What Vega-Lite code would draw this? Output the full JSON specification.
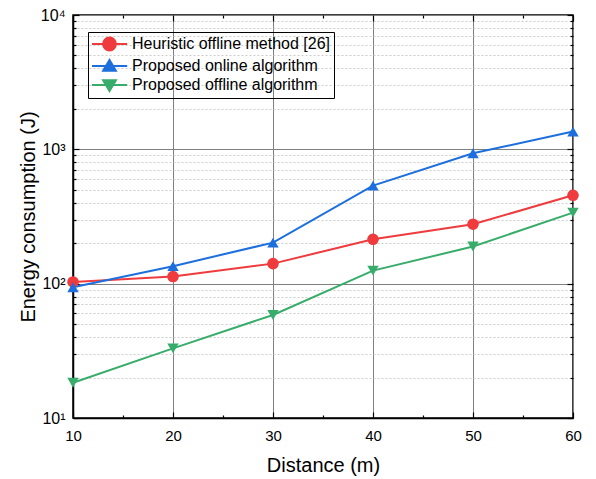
{
  "$schema": "https://vega.github.io/schema/vega-lite/v6.json",
  "width": 500,
  "height": 403,
  "autosize": {"type": "none"},
  "padding": {"left": 73, "top": 15, "right": 23, "bottom": 61},
  "background": "white",
  "config": {
    "font": "Liberation Sans",
    "view": {"stroke": "black", "strokeWidth": 1.5},
    "axis": {"domainColor": "black", "domainWidth": 1.5, "tickColor": "black", "tickWidth": 1.2, "labelColor": "black", "titleColor": "black", "labelFont": "Liberation Sans", "titleFont": "Liberation Sans", "titleFontWeight": "normal", "labelFlush": false}
  },
  "data": {"values": [
    {"d": 10, "e": 103, "s": "Heuristic offline method [26]"},
    {"d": 20, "e": 113, "s": "Heuristic offline method [26]"},
    {"d": 30, "e": 141, "s": "Heuristic offline method [26]"},
    {"d": 40, "e": 214, "s": "Heuristic offline method [26]"},
    {"d": 50, "e": 277, "s": "Heuristic offline method [26]"},
    {"d": 60, "e": 455, "s": "Heuristic offline method [26]"},
    {"d": 10, "e": 94, "s": "Proposed online algorithm"},
    {"d": 20, "e": 135, "s": "Proposed online algorithm"},
    {"d": 30, "e": 202, "s": "Proposed online algorithm"},
    {"d": 40, "e": 537, "s": "Proposed online algorithm"},
    {"d": 50, "e": 935, "s": "Proposed online algorithm"},
    {"d": 60, "e": 1356, "s": "Proposed online algorithm"},
    {"d": 10, "e": 18.3, "s": "Proposed offline algorithm"},
    {"d": 20, "e": 33, "s": "Proposed offline algorithm"},
    {"d": 30, "e": 58.5, "s": "Proposed offline algorithm"},
    {"d": 40, "e": 125, "s": "Proposed offline algorithm"},
    {"d": 50, "e": 189, "s": "Proposed offline algorithm"},
    {"d": 60, "e": 338, "s": "Proposed offline algorithm"}
  ]},
  "resolve": {"scale": {"x": "shared", "y": "shared"}, "axis": {"x": "independent", "y": "independent"}},
  "layer": [
    {
      "mark": {"type": "line", "strokeWidth": 2},
      "encoding": {
        "x": {"field": "d", "type": "quantitative", "scale": {"domain": [10, 60], "nice": false, "zero": false},
          "axis": {"title": "Distance (m)", "titleFontSize": 20, "titlePadding": 12, "labelFontSize": 15, "format": "d",
            "values": [10, 15, 20, 25, 30, 35, 40, 45, 50, 55, 60],
            "labelExpr": "datum.value % 10 == 0 ? datum.label : ''",
            "tickSize": {"condition": {"test": "datum.value % 10 == 0", "value": -6}, "value": -3},
            "labelPadding": 16,
            "grid": true, "gridColor": "#808080", "gridWidth": 1,
            "gridOpacity": {"condition": {"test": "datum.value % 10 == 0", "value": 1}, "value": 0}}},
        "y": {"field": "e", "type": "quantitative", "scale": {"type": "log", "domain": [10, 10000], "nice": false},
          "axis": {"title": "Energy consumption (J)", "titleFontSize": 20, "titlePadding": 2, "labelFontSize": 16,
            "values": [10, 20, 30, 40, 50, 60, 70, 80, 90, 100, 200, 300, 400, 500, 600, 700, 800, 900, 1000, 2000, 3000, 4000, 5000, 6000, 7000, 8000, 9000, 10000],
            "labelExpr": "datum.value == 10 ? '10¹' : datum.value == 100 ? '10²' : datum.value == 1000 ? '10³' : datum.value == 10000 ? '10⁴' : ''",
            "tickSize": {"condition": {"test": "indexof([10,100,1000,10000], datum.value) >= 0", "value": -6}, "value": -3},
            "labelPadding": 14,
            "grid": true,
            "gridColor": {"condition": {"test": "indexof([10,100,1000,10000], datum.value) >= 0", "value": "#808080"}, "value": "#cccccc"},
            "gridDash": {"condition": {"test": "indexof([10,100,1000,10000], datum.value) >= 0", "value": []}, "value": [2, 2]},
            "gridWidth": 1}},
        "color": {"field": "s", "type": "nominal",
          "scale": {"domain": ["Heuristic offline method [26]", "Proposed online algorithm", "Proposed offline algorithm"], "range": ["#ef3b3d", "#1c6fdd", "#38ad6b"]},
          "legend": {"title": null, "orient": "none", "legendX": 15, "legendY": 17, "labelFontSize": 16, "labelColor": "black", "labelLimit": 400,
            "strokeColor": "black", "padding": 3, "rowPadding": 1, "symbolSize": 256, "labelOffset": 23,
            "symbolStrokeWidth": 2,
            "encode": {"symbols": {"update": {
              "shape": {"signal": "datum.value == 'Heuristic offline method [26]' ? 'M-1,0H3.4M0.39,0A0.8,0.8 0 1,0 1.99,0A0.8,0.8 0 1,0 0.39,0Z' : datum.value == 'Proposed online algorithm' ? 'M-1,0H3.4M1.19,-0.75L1.99,0.6L0.39,0.6Z' : 'M-1,0H3.4M1.19,0.75L1.99,-0.6L0.39,-0.6Z'"},
              "fill": {"signal": "scale('color', datum.value)"},
              "stroke": {"signal": "scale('color', datum.value)"},
              "strokeWidth": {"value": 2},
              "opacity": {"value": 1}
            }}}}}
      }
    },
    {
      "transform": [{"filter": "datum.s == 'Heuristic offline method [26]'"}],
      "mark": {"type": "point", "filled": true, "opacity": 1, "size": 135, "shape": "circle", "color": "#ef3b3d"},
      "encoding": {
        "x": {"field": "d", "type": "quantitative", "axis": null},
        "y": {"field": "e", "type": "quantitative", "axis": null}
      }
    },
    {
      "transform": [{"filter": "datum.s == 'Proposed online algorithm'"}],
      "mark": {"type": "point", "filled": true, "opacity": 1, "size": 130, "shape": "triangle-up", "color": "#1c6fdd"},
      "encoding": {
        "x": {"field": "d", "type": "quantitative", "axis": null},
        "y": {"field": "e", "type": "quantitative", "axis": null}
      }
    },
    {
      "transform": [{"filter": "datum.s == 'Proposed offline algorithm'"}],
      "mark": {"type": "point", "filled": true, "opacity": 1, "size": 130, "shape": "triangle-down", "color": "#38ad6b"},
      "encoding": {
        "x": {"field": "d", "type": "quantitative", "axis": null},
        "y": {"field": "e", "type": "quantitative", "axis": null}
      }
    },
    {
      "mark": {"type": "point", "opacity": 0},
      "encoding": {
        "x": {"field": "d", "type": "quantitative",
          "axis": {"orient": "top", "title": null, "labels": false, "grid": false, "domain": false,
            "values": [10, 15, 20, 25, 30, 35, 40, 45, 50, 55, 60],
            "tickSize": {"condition": {"test": "datum.value % 10 == 0", "value": -6}, "value": -3}}},
        "y": {"field": "e", "type": "quantitative",
          "axis": {"orient": "right", "title": null, "labels": false, "grid": false, "domain": false,
            "values": [10, 20, 30, 40, 50, 60, 70, 80, 90, 100, 200, 300, 400, 500, 600, 700, 800, 900, 1000, 2000, 3000, 4000, 5000, 6000, 7000, 8000, 9000, 10000],
            "tickSize": {"condition": {"test": "indexof([10,100,1000,10000], datum.value) >= 0", "value": -6}, "value": -3}}}
      }
    }
  ]
}
